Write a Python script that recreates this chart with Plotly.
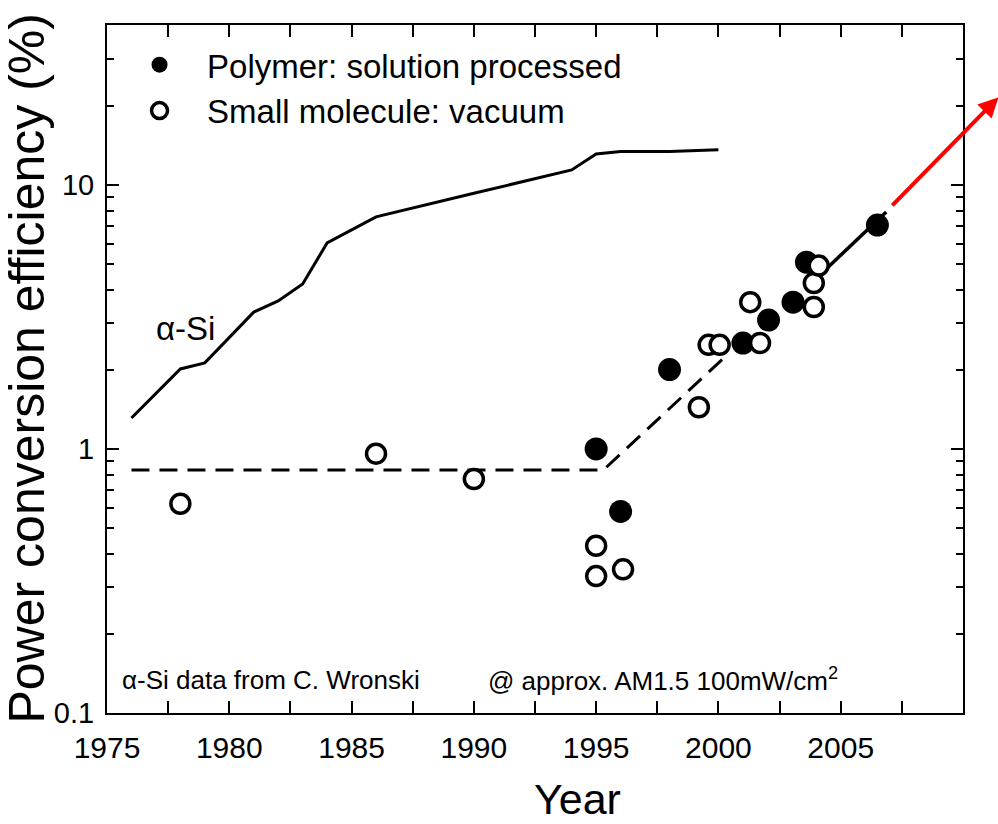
import plotly.graph_objects as go
import numpy as np

# ---- data ----
asi_year = [1976, 1978, 1979, 1981, 1982, 1983, 1984, 1986, 1990, 1994, 1995, 1996, 1998, 2000]
asi_eff = [1.31, 2.01, 2.12, 3.30, 3.64, 4.22, 6.03, 7.57, 9.3, 11.4, 13.1, 13.4, 13.4, 13.6]

poly_year = [1995.0, 1996.0, 1998.0, 2001.0, 2002.05, 2003.05, 2003.6, 2006.5]
poly_eff = [1.0, 0.58, 2.0, 2.52, 3.08, 3.6, 5.1, 7.05]

sm_year = [1978.0, 1986.0, 1990.0, 1995.0, 1995.0, 1996.1, 1999.2, 1999.6, 2000.05,
           2001.3, 2001.7, 2003.9, 2003.9, 2004.1]
sm_eff = [0.62, 0.96, 0.77, 0.43, 0.33, 0.35, 1.44, 2.48, 2.48,
          3.6, 2.52, 3.45, 4.25, 4.95]

trend_dash_year = [1976, 1995.3, 2000.35]
trend_dash_eff = [0.833, 0.833, 2.27]
trend_solid_year = [2003.63, 2006.86]
trend_solid_eff = [4.11, 7.9]

arrow_tail = (2007.05, 8.26)
arrow_head = (2011.45, 21.5)

x_ticks = [1975, 1980, 1985, 1990, 1995, 2000, 2005]
y_ticks = [0.1, 1, 10]
y_tick_text = ["0.1", "1", "10"]
y_minor = [0.2, 0.3, 0.4, 0.5, 0.6, 0.7, 0.8, 0.9,
           2, 3, 4, 5, 6, 7, 8, 9, 20, 30]

FONT = "Liberation Sans, Arial, sans-serif"
YR = [-1, 1.606]
PAD = "\u00a0\u00a0\u00a0"

fig = go.Figure()

fig.add_trace(go.Scatter(x=asi_year, y=asi_eff, mode="lines",
                         line=dict(color="black", width=3), showlegend=False))
fig.add_trace(go.Scatter(x=trend_dash_year, y=trend_dash_eff, mode="lines",
                         line=dict(color="black", width=3, dash="18px,10px"), showlegend=False))
fig.add_trace(go.Scatter(x=trend_solid_year, y=trend_solid_eff, mode="lines",
                         line=dict(color="black", width=3.5), showlegend=False))
fig.add_trace(go.Scatter(x=poly_year, y=poly_eff, mode="markers",
                         name=PAD + "Polymer: solution processed",
                         marker=dict(symbol="circle", size=23, color="black",
                                     line=dict(width=0))))
fig.add_trace(go.Scatter(x=sm_year, y=sm_eff, mode="markers",
                         name=PAD + "Small molecule: vacuum",
                         marker=dict(symbol="circle", size=19, color="white",
                                     line=dict(width=3.5, color="black"))))
# helper trace for minor y tick axis
fig.add_trace(go.Scatter(x=[None], y=[None], yaxis="y2", showlegend=False, hoverinfo="skip"))

fig.update_layout(
    width=998, height=824,
    margin=dict(l=107, r=35, t=25, b=111),
    paper_bgcolor="white", plot_bgcolor="white",
    font=dict(family=FONT, color="black"),
    showlegend=True,
    legend=dict(x=0.038, y=0.983, xanchor="left", yanchor="top",
                bgcolor="rgba(0,0,0,0)", font=dict(size=33, family=FONT),
                itemsizing="trace", tracegroupgap=0),
    xaxis=dict(range=[1975, 2010], tickvals=x_ticks, ticks="inside", ticklen=12,
               tickwidth=2, tickcolor="black", showline=True, linewidth=2,
               linecolor="black", mirror="allticks", showgrid=False, zeroline=False,
               tickfont=dict(size=30, family=FONT), ticklabelstandoff=7,
               minor=dict(dtick=2.5, tick0=1975, ticks="inside", ticklen=7,
                          tickwidth=2, tickcolor="black", showgrid=False)),
    yaxis=dict(type="log", range=YR, tickvals=y_ticks, ticktext=y_tick_text,
               ticks="inside", ticklen=12, tickwidth=2, tickcolor="black",
               showline=True, linewidth=2, linecolor="black", mirror="allticks",
               showgrid=False, zeroline=False, tickfont=dict(size=29, family=FONT),
               ticklabelstandoff=5),
    yaxis2=dict(type="log", range=YR, overlaying="y", side="left", tickvals=y_minor,
                ticks="inside", ticklen=7, tickwidth=2, tickcolor="black",
                showticklabels=False, showline=False, mirror="allticks",
                showgrid=False, zeroline=False),
)

fig.add_annotation(text="Power conversion efficiency (%)", xref="paper", yref="paper",
                   x=-0.094, y=0.5, xanchor="center", yanchor="middle", textangle=-90,
                   showarrow=False, font=dict(size=50, family=FONT))
fig.add_annotation(text="Year", xref="paper", yref="paper",
                   x=0.55, y=-0.125, xanchor="center", yanchor="middle",
                   showarrow=False, font=dict(size=43, family=FONT))
fig.add_annotation(text="\u03b1-Si", x=1978.2, y=np.log10(2.87), xref="x", yref="y",
                   showarrow=False, font=dict(size=33, family=FONT))
fig.add_annotation(text="\u03b1-Si data from C. Wronski", xref="paper", yref="paper",
                   x=0.015, y=0.048, xanchor="left", yanchor="middle",
                   showarrow=False, font=dict(size=26, family=FONT))
fig.add_annotation(text="@ approx. AM1.5 100mW/cm<sup>2</sup>", xref="paper", yref="paper",
                   x=0.443, y=0.048, xanchor="left", yanchor="middle",
                   showarrow=False, font=dict(size=26, family=FONT))
fig.add_annotation(text="", x=arrow_head[0], y=np.log10(arrow_head[1]), xref="x", yref="y",
                   ax=arrow_tail[0], ay=np.log10(arrow_tail[1]), axref="x", ayref="y",
                   showarrow=True, arrowhead=2, arrowsize=1, arrowwidth=4,
                   arrowcolor="#ff0000", standoff=0, startstandoff=0)

fig.write_html("out.html")
